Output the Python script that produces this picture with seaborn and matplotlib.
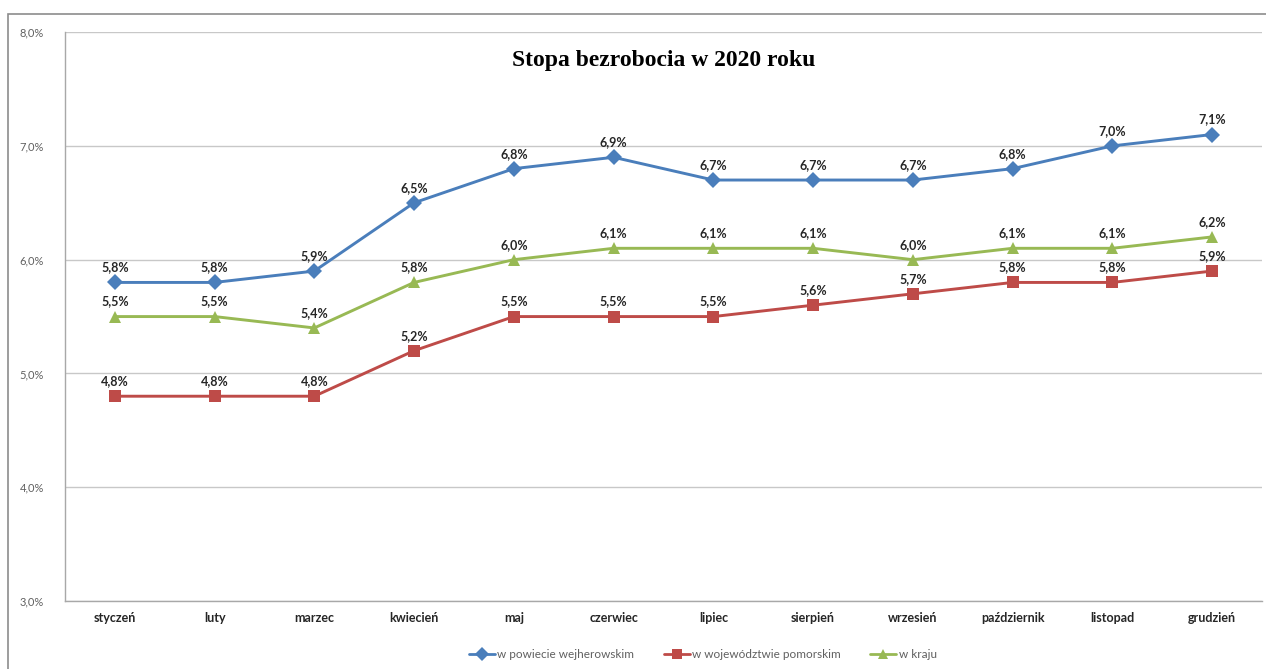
import numpy as np
import pandas as pd
import seaborn as sns
import matplotlib.pyplot as plt
from matplotlib.patches import Rectangle

# Data
months = ["styczeń", "luty", "marzec", "kwiecień", "maj", "czerwiec",
          "lipiec", "sierpień", "wrzesień", "październik", "listopad", "grudzień"]
powiat = [5.8, 5.8, 5.9, 6.5, 6.8, 6.9, 6.7, 6.7, 6.7, 6.8, 7.0, 7.1]
wojewodztwo = [4.8, 4.8, 4.8, 5.2, 5.5, 5.5, 5.5, 5.6, 5.7, 5.8, 5.8, 5.9]
kraj = [5.5, 5.5, 5.4, 5.8, 6.0, 6.1, 6.1, 6.1, 6.0, 6.1, 6.1, 6.2]
series_names = ["w powiecie wejherowskim", "w województwie pomorskim", "w kraju"]
y_ticks = [3, 4, 5, 6, 7, 8]

colors = {series_names[0]: "#4A7EBB", series_names[1]: "#BE4B48", series_names[2]: "#98B954"}
markers = {series_names[0]: "D", series_names[1]: "s", series_names[2]: "^"}

df = pd.DataFrame({
    "pos": list(range(len(months))) * 3,
    "value": powiat + wojewodztwo + kraj,
    "series": [s for s in series_names for _ in months],
})

sns.set_theme(style="white")
plt.rcParams['font.family'] = ['Lato', 'DejaVu Sans']

fig = plt.figure(figsize=(12.66, 6.69), dpi=100)
ax = fig.add_axes([0.0513, 0.1016, 0.9455, 0.8504])

sns.lineplot(data=df, x="pos", y="value", hue="series", style="series",
             palette=colors, markers=markers, dashes=False, linewidth=2.1,
             markersize=8, markeredgewidth=0, ax=ax, legend=False)

for s, vals in zip(series_names, [powiat, wojewodztwo, kraj]):
    for i, v in enumerate(vals):
        ax.annotate(f"{v:.1f}%".replace(".", ","), (i, v), xytext=(0, 6.5),
                    textcoords="offset points", ha="center", va="bottom",
                    fontsize=9, fontweight="bold", color="#262626")

ax.set_xlim(-0.5, len(months) - 0.5)
ax.set_ylim(3, 8)
ax.set_yticks(y_ticks)
ax.set_yticklabels([f"{t:.1f}%".replace(".", ",") for t in y_ticks],
                   fontsize=8, color="#606060")
ax.set_xticks(range(len(months)))
ax.set_xticklabels(months, fontsize=9, fontweight="bold", color="#262626")
ax.tick_params(axis="x", length=0, pad=8)
ax.tick_params(axis="y", length=5, color="#A0A0A0", direction="out", pad=10)
ax.set_xticks(np.arange(-0.5, len(months), 1), minor=True)
ax.tick_params(axis="x", which="minor", length=5, color="#A0A0A0", direction="out")
ax.yaxis.grid(True, color="#C8C8C8", linewidth=1)
ax.set_xlabel("")
ax.set_ylabel("")
for side in ["top", "right"]:
    ax.spines[side].set_visible(False)
for side in ["left", "bottom"]:
    ax.spines[side].set_color("#A8A8A8")
    ax.spines[side].set_linewidth(1)

ax.set_title("Stopa bezrobocia w 2020 roku", family="Liberation Serif",
             fontsize=17, fontweight="bold", color="black", y=0.926)

# legend
handles = [plt.Line2D([], [], color=colors[s], marker=markers[s], markersize=7,
                      markeredgewidth=0, linewidth=2) for s in series_names]
fig.legend(handles, series_names, loc="center", bbox_to_anchor=(0.555, 0.022),
           ncol=3, frameon=False, fontsize=8.5, labelcolor="#606060",
           handlelength=2.2, handletextpad=0.2, columnspacing=2.5)

# outer chart border
fig.patches.append(Rectangle((8 / 1266, -0.01), 1.0, 1 - 14 / 669 + 0.01,
                             transform=fig.transFigure, fill=False,
                             edgecolor="#8C8C8C", linewidth=1.2))

fig.savefig("out.png", dpi=100)
